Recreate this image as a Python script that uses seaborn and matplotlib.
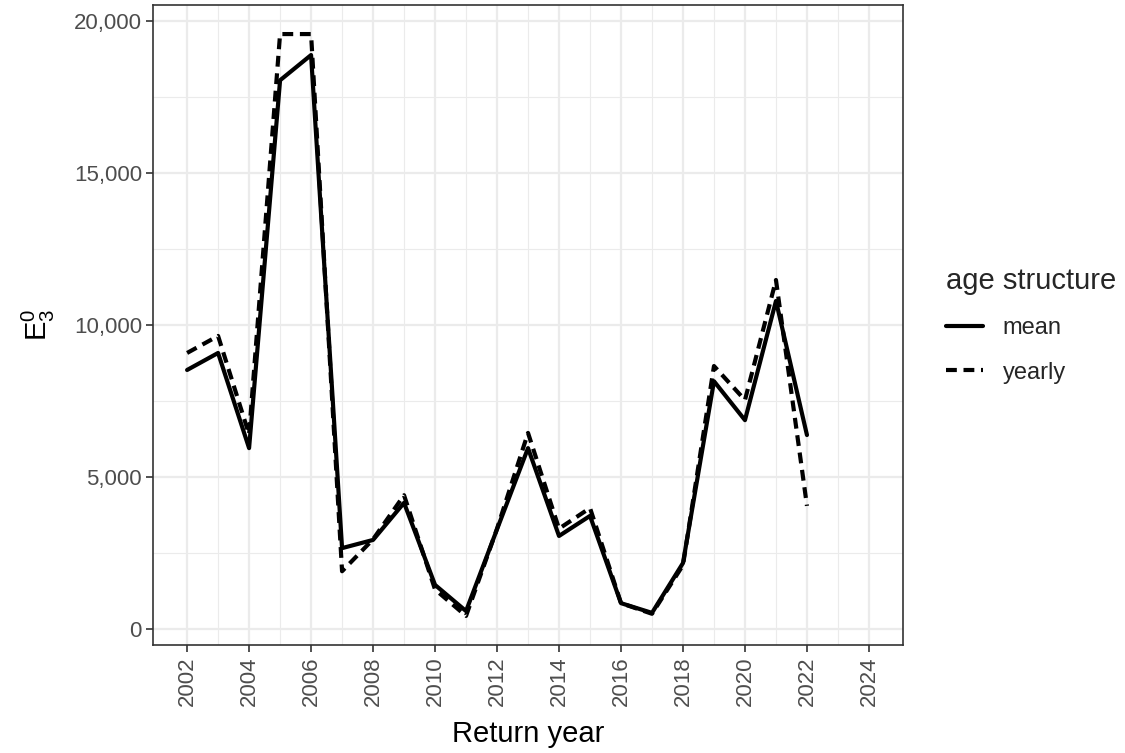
import matplotlib
matplotlib.use("Agg")
import matplotlib.pyplot as plt
import matplotlib.ticker as mticker
from matplotlib.lines import Line2D
import pandas as pd
import seaborn as sns

years = list(range(2002, 2023))
mean_vals = [8520, 9080, 5950, 18050, 18880, 2660, 2930, 4150, 1450, 590,
             3280, 5950, 3060, 3720, 850, 530, 2170, 8150, 6870, 10790, 6380]
yearly_vals = [9080, 9640, 6400, 19570, 19570, 1900, 2950, 4400, 1300, 430,
               3300, 6450, 3300, 3980, 850, 500, 2100, 8650, 7530, 11480, 4050]
x_ticks = list(range(2002, 2025, 2))
y_ticks = [0, 5000, 10000, 15000, 20000]

df = pd.concat([
    pd.DataFrame({"Return year": years, "E": mean_vals, "age structure": "mean"}),
    pd.DataFrame({"Return year": years, "E": yearly_vals, "age structure": "yearly"}),
])

sns.set_theme(style="white")
plt.rcParams["font.family"] = ["Liberation Sans", "DejaVu Sans"]

fig = plt.figure(figsize=(11.25, 7.53), dpi=100)
ax = fig.add_axes([0.136, 0.1434, 0.6667, 0.85])

dash = (2.6, 1.6)
sns.lineplot(data=df, x="Return year", y="E", style="age structure",
             dashes={"mean": "", "yearly": dash}, color="black",
             linewidth=3.0, ax=ax, legend=False)

# scale limits with 5% expansion
ylo = min(min(mean_vals), min(yearly_vals))
yhi = max(max(mean_vals), max(yearly_vals))
pad = 0.05 * (yhi - ylo)
ax.set_ylim(ylo - pad, yhi + pad)
ax.set_xlim(2002 - 1.1, 2024 + 1.1)

ax.set_xticks(x_ticks)
ax.set_xticks(list(range(2003, 2025, 2)), minor=True)
ax.set_yticks(y_ticks)
ax.set_yticks([2500, 7500, 12500, 17500], minor=True)
ax.yaxis.set_major_formatter(mticker.FuncFormatter(lambda v, p: f"{int(v):,}"))

ax.grid(which="major", color="#EBEBEB", linewidth=1.6)
ax.grid(which="minor", color="#EBEBEB", linewidth=0.8)
ax.set_axisbelow(True)
for s in ax.spines.values():
    s.set_color("#333333")
    s.set_linewidth(1.2)

ax.tick_params(axis="both", which="major", length=5, width=1.2, color="#333333",
               labelcolor="#4D4D4D", labelsize=16, bottom=True, left=True, pad=3)
ax.tick_params(axis="both", which="minor", length=0)
ax.tick_params(axis="x", labelrotation=90)

ax.set_xlabel("Return year", fontsize=21, color="black", labelpad=10)
ax.set_ylabel(r"$\mathregular{E_3^0}$", fontsize=21, color="black", labelpad=12)

# legend
handles = [Line2D([], [], color="black", linewidth=3.0, linestyle="-"),
           Line2D([], [], color="black", linewidth=3.0, linestyle=(0, dash))]
leg = fig.legend(handles, ["mean", "yearly"], title="age structure",
                 loc="upper left", bbox_to_anchor=(0.822, 0.674), frameon=False,
                 fontsize=17, title_fontsize=21, handlelength=1.55,
                 labelspacing=0.95, handletextpad=0.85, alignment="left")

fig.savefig("out.png", dpi=100)
